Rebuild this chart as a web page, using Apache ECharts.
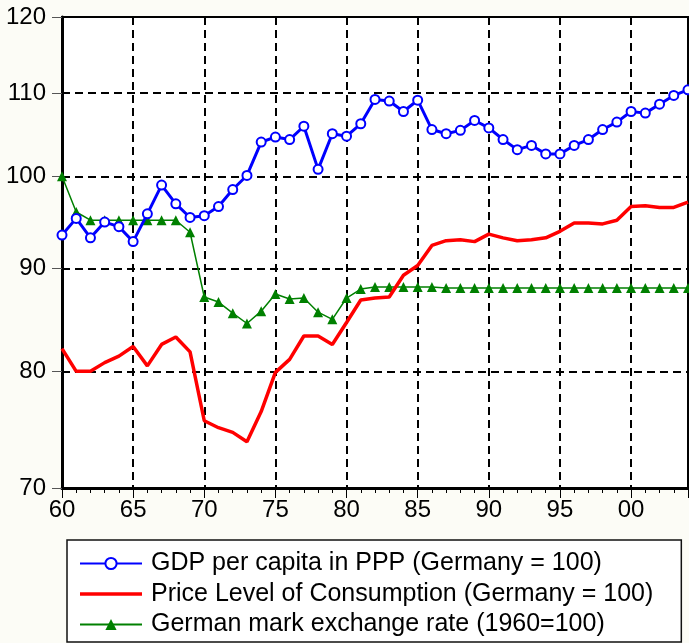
<!DOCTYPE html>
<html>
<head>
<meta charset="utf-8">
<script src="https://cdn.jsdelivr.net/npm/echarts@6/dist/echarts.min.js"></script>
<style>html,body{margin:0;padding:0;background:#fcfcf6;}#c{width:689px;height:643px;}</style>
</head>
<body>
<div id="c"></div>
<script>
const years = [];
for (let y = 1960; y <= 2004; y++) years.push(y);
const gdpPPP = [93.5,95.3,93.2,94.9,94.4,92.8,95.8,99.0,96.9,95.4,
  95.6,96.6,98.5,100.1,104.0,104.6,104.3,105.9,100.8,105.0,
  104.7,106.2,109.2,109.0,107.7,109.1,105.5,105.0,105.4,106.6,
  105.7,104.3,103.1,103.6,102.6,102.6,103.6,104.3,105.5,106.4,
  107.7,107.5,108.6,109.7,110.4];
const priceLevel = [82.1,80.0,80.0,80.8,81.4,82.3,80.5,82.5,83.2,81.8,
  75.6,75.0,74.6,73.8,76.4,79.9,81.1,83.3,83.3,82.5,
  84.6,86.8,87.0,87.1,89.3,90.3,92.4,92.9,93.0,92.8,
  93.6,93.2,92.9,93.0,93.2,93.9,94.8,94.8,94.7,95.1,
  96.6,96.7,96.5,96.5,97.1];
const exchangeRate = [100,96.0,95.1,95.1,95.1,95.1,95.1,95.1,95.1,93.8,
  87.1,86.6,85.5,84.5,85.7,87.4,86.9,87.0,85.6,84.9,
  87.0,87.9,88.1,88.1,88.1,88.1,88.1,88.0,88.0,88.0,
  88.0,88.0,88.0,88.0,88.0,88.0,88.0,88.0,88.0,88.0,
  88.0,88.0,88.0,88.0,88.0];
const yTicks = [70,80,90,100,110,120];
const seriesNames = ['GDP per capita in PPP (Germany = 100)','Price Level of Consumption (Germany = 100)','German mark exchange rate (1960=100)'];

const pair = arr => years.map((y, i) => [y, arr[i]]);
const FONT = 'Liberation Sans';
const chart = echarts.init(document.getElementById('c'));
chart.setOption({
  backgroundColor: '#fcfcf6',
  animation: false,
  textStyle: { fontFamily: FONT },
  grid: { left: 62, right: 1, top: 17, bottom: 155, show: true, backgroundColor: '#ffffff', borderColor: '#000', borderWidth: 2, containLabel: false, outerBoundsMode: 'none' },
  xAxis: [{
    type: 'value', min: 1960, max: 2004, interval: 5,
    axisLine: { show: true, lineStyle: { color: '#000', width: 3 } },
    axisTick: { show: true, inside: false, length: 10, lineStyle: { color: '#000', width: 1 } },
    axisLabel: { margin: 10, fontSize: 24, color: '#000', fontFamily: FONT,
      formatter: v => (v % 5 === 0 ? String(v % 100).padStart(2, '0') : '') },
    splitLine: { show: true, lineStyle: { color: '#000', width: 2, type: [8, 5] } }
  }, {
    type: 'value', min: 1960, max: 2004, interval: 1, position: 'bottom',
    axisLine: { show: false },
    axisTick: { show: true, inside: false, length: 5, lineStyle: { color: '#000', width: 1 } },
    axisLabel: { show: false },
    splitLine: { show: false }
  }],
  yAxis: {
    type: 'log', logBase: 10, min: 70, max: 120,
    axisLine: { show: true, lineStyle: { color: '#000', width: 3 } },
    axisTick: { show: true, inside: false, length: 10, customValues: yTicks, lineStyle: { color: '#555', width: 1 } },
    axisLabel: { customValues: yTicks, margin: 16, fontSize: 24, color: '#000', fontFamily: FONT },
    splitLine: { show: true, lineStyle: { color: '#000', width: 2, type: [8, 5] } }
  },
  legend: {
    orient: 'vertical', left: 67, top: 540,
    backgroundColor: '#ffffff', borderColor: '#111', borderWidth: 1.5,
    padding: [11, 28, 5, 12], itemGap: 5.5, itemWidth: 62, itemHeight: 14,
    textStyle: { fontSize: 25, color: '#000', fontFamily: FONT, padding: [0, 0, 0, 4] },
    data: [
      { name: seriesNames[0] },
      { name: seriesNames[1], icon: 'path://M0,0 L62,0 L62,3.5 L0,3.5 Z', itemStyle: { color: '#ff0000' } },
      { name: seriesNames[2] }
    ]
  },
  series: [{
    name: seriesNames[0], type: 'line', data: pair(gdpPPP),
    symbol: 'circle', symbolSize: 9, showAllSymbol: true,
    lineStyle: { color: '#0000ff', width: 3 },
    itemStyle: { color: '#ffffff', borderColor: '#0000ff', borderWidth: 2 },
    z: 5
  }, {
    name: seriesNames[1], type: 'line', data: pair(priceLevel),
    symbol: 'none', showSymbol: false,
    lineStyle: { color: '#ff0000', width: 3.5 },
    itemStyle: { color: '#ff0000' },
    z: 4
  }, {
    name: seriesNames[2], type: 'line', data: pair(exchangeRate),
    symbol: 'triangle', symbolSize: 10, showAllSymbol: true,
    lineStyle: { color: '#008000', width: 1.5 },
    itemStyle: { color: '#008000' },
    z: 3
  }]
});
</script>
</body>
</html>
